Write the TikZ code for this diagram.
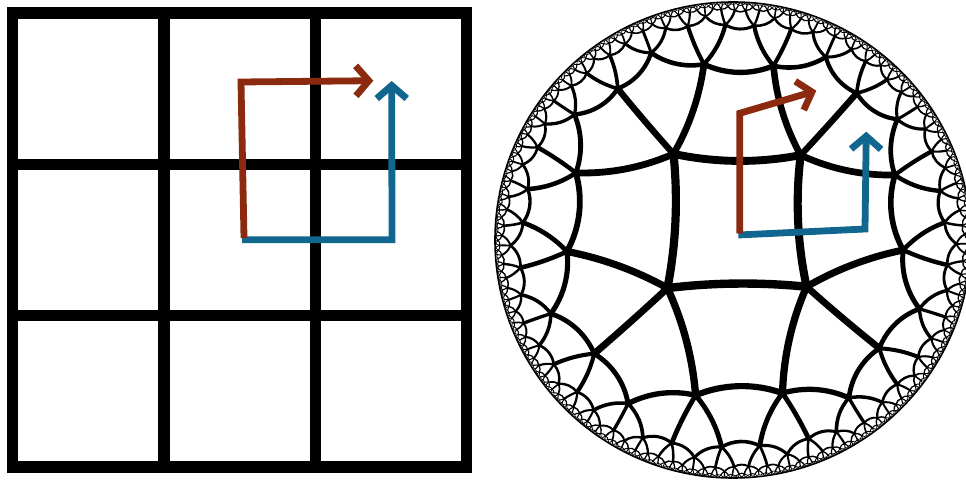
\documentclass[tikz,border=0pt]{standalone}
\usetikzlibrary{arrows.meta}

\definecolor{pathred}{RGB}{140,42,15}
\definecolor{pathblue}{RGB}{16,102,142}

\tikzset{
  gridline/.style={line width=5.75pt, line join=miter},
  hypedge/.style={line cap=round},
  redpath/.style={pathred, line width=3.4pt, line join=miter, -{Straight Barb[length=6.5pt, width=15pt]}},
  bluepath/.style={pathblue, line width=3.4pt, line join=miter, -{Straight Barb[length=6.5pt, width=15pt]}},
}

% 双曲平面 {4,5} 铺砌
\ExplSyntaxOn
\fp_new:N \l_hyp_ar_fp
\fp_new:N \l_hyp_ai_fp
\fp_new:N \l_hyp_br_fp
\fp_new:N \l_hyp_bi_fp
\fp_new:N \l_hyp_nr_fp
\fp_new:N \l_hyp_ni_fp
\fp_new:N \l_hyp_dr_fp
\fp_new:N \l_hyp_di_fp
\fp_new:N \l_hyp_dd_fp
\fp_new:N \l_hyp_n_fp
\fp_new:N \l_hyp_xa_fp
\fp_new:N \l_hyp_ya_fp
\fp_new:N \l_hyp_xb_fp
\fp_new:N \l_hyp_yb_fp
\fp_new:N \l_hyp_xc_fp
\fp_new:N \l_hyp_yc_fp
\fp_new:N \l_hyp_xd_fp
\fp_new:N \l_hyp_yd_fp
\fp_new:N \l_hyp_ux_fp
\fp_new:N \l_hyp_uy_fp
\fp_new:N \l_hyp_det_fp
\fp_new:N \l_hyp_r_fp
\fp_new:N \l_hyp_aa_fp
\fp_new:N \l_hyp_da_fp
\fp_new:N \l_hyp_w_fp
\fp_new:N \l_hyp_f_fp
\tl_new:N \l_hyp_key_tl
\tl_new:N \l_hyp_item_tl
\seq_new:N \g_hyp_queue_seq

% 参数
\fp_const:Nn \c_hyp_cot_fp { cot(pi/5) }
\fp_const:Nn \c_hyp_q_fp { sqrt((\c_hyp_cot_fp - 1)/(\c_hyp_cot_fp + 1)) / sqrt(2) }
\fp_const:Nn \c_hyp_ch_fp { sqrt(2) * cos(pi/5) }
\fp_const:Nn \c_hyp_rm_fp { sqrt((\c_hyp_ch_fp - 1)/(\c_hyp_ch_fp + 1)) }
\fp_const:Nn \c_hyp_s_fp { 2 * \c_hyp_rm_fp / (1 + \c_hyp_rm_fp^2) }
\fp_const:Nn \c_hyp_al_fp { 1 / sqrt(1 - \c_hyp_s_fp^2) }
\fp_const:Nn \c_hyp_cx_fp { 733 }
\fp_const:Nn \c_hyp_cy_fp { 243 }
\fp_const:Nn \c_hyp_rad_fp { 238 }
\fp_const:Nn \c_hyp_tx_fp { 0.017 }
\fp_const:Nn \c_hyp_ty_fp { 0.080 }
\fp_const:Nn \c_hyp_eps_fp { 0.025 }

\cs_new_protected:Npn \hyp_map:nnNN #1#2#3#4
  {
    \fp_set:Nn \l_hyp_nr_fp { \l_hyp_ar_fp*(#1) - \l_hyp_ai_fp*(#2) + \l_hyp_br_fp }
    \fp_set:Nn \l_hyp_ni_fp { \l_hyp_ar_fp*(#2) + \l_hyp_ai_fp*(#1) + \l_hyp_bi_fp }
    \fp_set:Nn \l_hyp_dr_fp { \l_hyp_br_fp*(#1) + \l_hyp_bi_fp*(#2) + \l_hyp_ar_fp }
    \fp_set:Nn \l_hyp_di_fp { \l_hyp_br_fp*(#2) - \l_hyp_bi_fp*(#1) - \l_hyp_ai_fp }
    \fp_set:Nn \l_hyp_dd_fp { \l_hyp_dr_fp^2 + \l_hyp_di_fp^2 }
    \fp_set:Nn #3 { (\l_hyp_nr_fp*\l_hyp_dr_fp + \l_hyp_ni_fp*\l_hyp_di_fp)/\l_hyp_dd_fp }
    \fp_set:Nn #4 { (\l_hyp_ni_fp*\l_hyp_dr_fp - \l_hyp_nr_fp*\l_hyp_di_fp)/\l_hyp_dd_fp }
  }

\cs_new_protected:Npn \hyp_edge:NNNN #1#2#3#4
  {
    \tl_set:Nx \l_hyp_key_tl
      { e \fp_eval:n { round((#1 + #3)/2, 4) } : \fp_eval:n { round((#2 + #4)/2, 4) } }
    \cs_if_exist:cF { hyp@ \l_hyp_key_tl }
      {
        \cs_gset:cpn { hyp@ \l_hyp_key_tl } { }
        \fp_set:Nn \l_hyp_f_fp { 1 - ((#1 + #3)/2)^2 - ((#2 + #4)/2)^2 }
        \fp_compare:nT { \l_hyp_f_fp > 0.003 }
          {
            \fp_set:Nn \l_hyp_w_fp { max(0.22, 4.3 * \l_hyp_f_fp ^ 0.62) }
            \fp_set:Nn \l_hyp_det_fp { #1 * #4 - #2 * #3 }
            \fp_set:Nn \l_hyp_r_fp { 100 }
            \fp_compare:nT { abs(\l_hyp_det_fp) > 0.0000001 }
              {
                \fp_set:Nn \l_hyp_ux_fp
                  { ((1 + #1^2 + #2^2) * #4 - (1 + #3^2 + #4^2) * #2) / (2 * \l_hyp_det_fp) }
                \fp_set:Nn \l_hyp_uy_fp
                  { ((1 + #3^2 + #4^2) * #1 - (1 + #1^2 + #2^2) * #3) / (2 * \l_hyp_det_fp) }
                \fp_set:Nn \l_hyp_r_fp { sqrt((#1 - \l_hyp_ux_fp)^2 + (#2 - \l_hyp_uy_fp)^2) }
              }
            \fp_compare:nTF { \l_hyp_r_fp > 30 }
              {
                \use:x
                  {
                    \exp_not:N \draw [ line~width = \fp_eval:n { round(\l_hyp_w_fp, 3) } pt ]
                      ( \fp_eval:n { round(\c_hyp_cx_fp + \c_hyp_rad_fp * #1, 3) } ,
                        \fp_eval:n { round(\c_hyp_cy_fp + \c_hyp_rad_fp * #2, 3) } )
                      --
                      ( \fp_eval:n { round(\c_hyp_cx_fp + \c_hyp_rad_fp * #3, 3) } ,
                        \fp_eval:n { round(\c_hyp_cy_fp + \c_hyp_rad_fp * #4, 3) } ) ;
                  }
              }
              {
                \fp_set:Nn \l_hyp_aa_fp { atand(#2 - \l_hyp_uy_fp, #1 - \l_hyp_ux_fp) }
                \fp_set:Nn \l_hyp_da_fp { atand(#4 - \l_hyp_uy_fp, #3 - \l_hyp_ux_fp) - \l_hyp_aa_fp }
                \fp_set:Nn \l_hyp_da_fp
                  { \l_hyp_da_fp > 180 ? \l_hyp_da_fp - 360 : ( \l_hyp_da_fp < -180 ? \l_hyp_da_fp + 360 : \l_hyp_da_fp ) }
                \use:x
                  {
                    \exp_not:N \draw [ line~width = \fp_eval:n { round(\l_hyp_w_fp, 3) } pt ]
                      ( \fp_eval:n { round(\c_hyp_cx_fp + \c_hyp_rad_fp * #1, 3) } ,
                        \fp_eval:n { round(\c_hyp_cy_fp + \c_hyp_rad_fp * #2, 3) } )
                      arc [ start~angle = \fp_eval:n { round(\l_hyp_aa_fp, 4) } ,
                            delta~angle = \fp_eval:n { round(\l_hyp_da_fp, 4) } ,
                            radius = \fp_eval:n { round(\c_hyp_rad_fp * \l_hyp_r_fp / 2, 4) } pt ] ;
                  }
              }
          }
      }
  }

\cs_new_protected:Npn \hyp_push:nnnn #1#2#3#4
  {
    \seq_gput_right:Nx \g_hyp_queue_seq
      {
        { \fp_eval:n { \c_hyp_al_fp * (#1) } }
        { \fp_eval:n { \c_hyp_al_fp * (#2) } }
        { \fp_eval:n { \c_hyp_al_fp * (#3) } }
        { \fp_eval:n { \c_hyp_al_fp * (#4) } }
      }
  }

\cs_new_protected:Npn \hyp_tile:nnnn #1#2#3#4
  {
    \fp_set:Nn \l_hyp_ar_fp {#1}
    \fp_set:Nn \l_hyp_ai_fp {#2}
    \fp_set:Nn \l_hyp_br_fp {#3}
    \fp_set:Nn \l_hyp_bi_fp {#4}
    \fp_set:Nn \l_hyp_n_fp { \l_hyp_ar_fp^2 + \l_hyp_ai_fp^2 }
    \tl_set:Nx \l_hyp_key_tl
      {
        t \fp_eval:n { round((\l_hyp_br_fp*\l_hyp_ar_fp - \l_hyp_bi_fp*\l_hyp_ai_fp)/\l_hyp_n_fp, 4) }
        : \fp_eval:n { round((\l_hyp_br_fp*\l_hyp_ai_fp + \l_hyp_bi_fp*\l_hyp_ar_fp)/\l_hyp_n_fp, 4) }
      }
    \cs_if_exist:cF { hyp@ \l_hyp_key_tl }
      {
        \cs_gset:cpn { hyp@ \l_hyp_key_tl } { }
        \hyp_map:nnNN { \c_hyp_q_fp } { \c_hyp_q_fp } \l_hyp_xa_fp \l_hyp_ya_fp
        \hyp_map:nnNN { -\c_hyp_q_fp } { \c_hyp_q_fp } \l_hyp_xb_fp \l_hyp_yb_fp
        \hyp_map:nnNN { -\c_hyp_q_fp } { -\c_hyp_q_fp } \l_hyp_xc_fp \l_hyp_yc_fp
        \hyp_map:nnNN { \c_hyp_q_fp } { -\c_hyp_q_fp } \l_hyp_xd_fp \l_hyp_yd_fp
        \hyp_edge:NNNN \l_hyp_xd_fp \l_hyp_yd_fp \l_hyp_xa_fp \l_hyp_ya_fp
        \hyp_edge:NNNN \l_hyp_xa_fp \l_hyp_ya_fp \l_hyp_xb_fp \l_hyp_yb_fp
        \hyp_edge:NNNN \l_hyp_xb_fp \l_hyp_yb_fp \l_hyp_xc_fp \l_hyp_yc_fp
        \hyp_edge:NNNN \l_hyp_xc_fp \l_hyp_yc_fp \l_hyp_xd_fp \l_hyp_yd_fp
        \fp_compare:nT { 1 / \l_hyp_n_fp > \c_hyp_eps_fp }
          {
            \hyp_push:nnnn
              { \l_hyp_ar_fp + \c_hyp_s_fp * \l_hyp_br_fp } { \l_hyp_ai_fp + \c_hyp_s_fp * \l_hyp_bi_fp }
              { \l_hyp_br_fp + \c_hyp_s_fp * \l_hyp_ar_fp } { \l_hyp_bi_fp + \c_hyp_s_fp * \l_hyp_ai_fp }
            \hyp_push:nnnn
              { \l_hyp_ar_fp + \c_hyp_s_fp * \l_hyp_bi_fp } { \l_hyp_ai_fp - \c_hyp_s_fp * \l_hyp_br_fp }
              { \l_hyp_br_fp - \c_hyp_s_fp * \l_hyp_ai_fp } { \l_hyp_bi_fp + \c_hyp_s_fp * \l_hyp_ar_fp }
            \hyp_push:nnnn
              { \l_hyp_ar_fp - \c_hyp_s_fp * \l_hyp_br_fp } { \l_hyp_ai_fp - \c_hyp_s_fp * \l_hyp_bi_fp }
              { \l_hyp_br_fp - \c_hyp_s_fp * \l_hyp_ar_fp } { \l_hyp_bi_fp - \c_hyp_s_fp * \l_hyp_ai_fp }
            \hyp_push:nnnn
              { \l_hyp_ar_fp - \c_hyp_s_fp * \l_hyp_bi_fp } { \l_hyp_ai_fp + \c_hyp_s_fp * \l_hyp_br_fp }
              { \l_hyp_br_fp + \c_hyp_s_fp * \l_hyp_ai_fp } { \l_hyp_bi_fp - \c_hyp_s_fp * \l_hyp_ar_fp }
          }
      }
  }

\NewDocumentCommand \hyptiling { }
  {
    \seq_gclear:N \g_hyp_queue_seq
    \seq_gput_right:Nx \g_hyp_queue_seq
      {
        { \fp_eval:n { 1 / sqrt(1 - \c_hyp_tx_fp^2 - \c_hyp_ty_fp^2) } }
        { 0 }
        { \fp_eval:n { \c_hyp_tx_fp / sqrt(1 - \c_hyp_tx_fp^2 - \c_hyp_ty_fp^2) } }
        { \fp_eval:n { \c_hyp_ty_fp / sqrt(1 - \c_hyp_tx_fp^2 - \c_hyp_ty_fp^2) } }
      }
    \bool_until_do:nn { \seq_if_empty_p:N \g_hyp_queue_seq }
      {
        \seq_gpop_left:NN \g_hyp_queue_seq \l_hyp_item_tl
        \exp_after:wN \hyp_tile:nnnn \l_hyp_item_tl
      }
  }
\ExplSyntaxOff

\begin{document}
\begin{tikzpicture}[x=0.5pt, y=0.5pt]
  \useasboundingbox (0,0) rectangle (966,483);
  \clip (0,0) rectangle (966,483);

  % 左：正方形网格
  \draw[gridline] (12.5,16.1) rectangle (466.7,470);
  \foreach \k in {1,2} {
    \draw[gridline] (12.5+151.4*\k,16.1) -- (12.5+151.4*\k,470);
    \draw[gridline] (12.5,16.1+151.3*\k) -- (466.7,16.1+151.3*\k);
  }

  % 左：路径
  \coordinate (gredA) at (244,245);
  \coordinate (gredB) at (241,401);
  \coordinate (gredC) at (373.3,402.3);
  \coordinate (gblueA) at (242,243.3);
  \coordinate (gblueB) at (392,243.3);
  \coordinate (gblueC) at (391.7,402);
  \draw[bluepath] (gblueA) -- (gblueB) -- (gblueC);
  \draw[redpath] (gredA) -- (gredB) -- (gredC);

  % 右：双曲铺砌
  \begin{scope}[hypedge]
    \hyptiling
  \end{scope}
  \draw[line width=0.8pt] (733,243) circle[radius=119pt];

  % 右：路径
  \coordinate (hredA) at (739.7,249.7);
  \coordinate (hredB) at (739.7,369.7);
  \coordinate (hredC) at (816.3,392.3);
  \coordinate (hblueA) at (738.3,248);
  \coordinate (hblueB) at (865,254);
  \coordinate (hblueC) at (866.3,351.3);
  \draw[bluepath] (hblueA) -- (hblueB) -- (hblueC);
  \draw[redpath] (hredA) -- (hredB) -- (hredC);
\end{tikzpicture}
\end{document}
